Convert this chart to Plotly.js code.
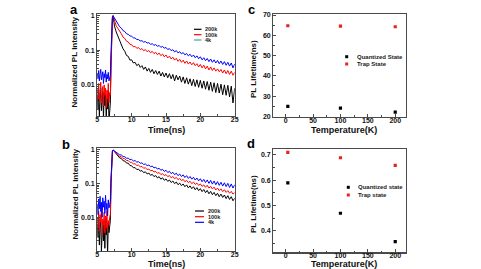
<!DOCTYPE html>
<html>
<head>
<meta charset="utf-8">
<script src="https://cdn.plot.ly/plotly-3.0.1.min.js"></script>
<style>
  html, body { margin: 0; padding: 0; background: #fff; }
  #chart { width: 481px; height: 269px; }
</style>
</head>
<body>
<div id="chart"></div>
<script>
// Time base shared by the PL decay traces (ns)
const timeNs = [5.0,5.1,5.2,5.3,5.4,5.5,5.6,5.7,5.8,5.9,6.0,6.1,6.2,6.3,6.4,6.5,6.6,6.7,6.8,
  6.9,7.0,7.1,7.2,7.3,7.4,
  7.5,7.75,8.0,8.25,8.5,8.75,9.0,9.25,9.5,9.75,10.0,10.25,10.5,10.75,11.0,11.25,11.5,11.75,12.0,12.25,
  12.5,12.75,13.0,13.25,13.5,13.75,14.0,14.25,14.5,14.75,15.0,15.25,15.5,15.75,16.0,16.25,16.5,16.75,17.0,17.25,
  17.5,17.75,18.0,18.25,18.5,18.75,19.0,19.25,19.5,19.75,20.0,20.25,20.5,20.75,21.0,21.25,21.5,21.75,22.0,22.25,
  22.5,22.75,23.0,23.25,23.5,23.75,24.0,24.25,24.5,24.75,25.0];

// Panel a: normalized PL decay
const a200k = [0.005,0.002,0.007,0.0012,0.004,0.008,0.0018,0.005,0.0065,0.001,0.006,0.0025,0.0055,0.0011,0.004,0.002,0.007,0.0009,0.003,
  0.003,0.05,0.32,0.85,1.0,0.72,
  0.5,0.34,0.26,0.18,0.15,0.11,0.094,0.071,0.067,0.052,
  0.053,0.043,0.045,0.036,0.04,0.032,0.036,0.028,0.033,0.025,
  0.03,0.023,0.028,0.021,0.026,0.02,0.025,0.018,0.023,0.017,
  0.022,0.016,0.021,0.015,0.02,0.013,0.019,0.014,0.018,0.012,
  0.017,0.011,0.016,0.0105,0.015,0.0095,0.0145,0.009,0.014,0.0085,
  0.0135,0.008,0.013,0.0075,0.0125,0.007,0.012,0.0065,0.0115,0.006,
  0.011,0.0058,0.0105,0.0052,0.01,0.005,0.0097,0.0045,0.0092,0.003,0.008];
const a100k = [0.008,0.004,0.011,0.0035,0.006,0.012,0.003,0.007,0.009,0.0025,0.01,0.005,0.008,0.0022,0.007,0.004,0.011,0.003,0.006,
  0.005,0.06,0.38,0.88,1.0,0.85,
  0.69,0.51,0.43,0.34,0.30,0.24,0.22,0.184,0.175,0.149,
  0.145,0.126,0.13,0.114,0.12,0.105,0.112,0.097,0.105,0.091,
  0.099,0.085,0.093,0.08,0.088,0.075,0.083,0.07,0.078,0.065,
  0.073,0.06,0.068,0.056,0.063,0.052,0.059,0.048,0.055,0.045,
  0.052,0.042,0.049,0.04,0.046,0.038,0.044,0.036,0.041,0.033,
  0.039,0.031,0.037,0.029,0.035,0.027,0.033,0.026,0.031,0.025,
  0.029,0.024,0.028,0.022,0.027,0.021,0.026,0.02,0.025,0.019,0.023];
const a4k = [0.022,0.015,0.026,0.013,0.02,0.028,0.014,0.019,0.024,0.011,0.021,0.016,0.027,0.012,0.02,0.015,0.023,0.013,0.018,
  0.019,0.09,0.45,0.92,1.0,0.93,
  0.83,0.67,0.58,0.48,0.44,0.37,0.35,0.30,0.29,0.26,
  0.255,0.23,0.227,0.205,0.204,0.186,0.19,0.172,0.179,0.162,
  0.166,0.149,0.155,0.14,0.146,0.131,0.138,0.122,0.13,0.115,
  0.121,0.105,0.112,0.098,0.104,0.09,0.098,0.084,0.091,0.079,
  0.086,0.074,0.081,0.069,0.077,0.065,0.073,0.061,0.069,0.057,
  0.065,0.053,0.061,0.05,0.058,0.047,0.056,0.045,0.053,0.043,
  0.051,0.041,0.049,0.039,0.047,0.037,0.045,0.035,0.043,0.031,0.04];

// Panel b: normalized PL decay
const b200k = [0.006,0.0025,0.009,0.0015,0.005,0.008,0.001,0.004,0.0075,0.002,0.006,0.0012,0.0085,0.003,0.005,0.0008,0.007,0.0035,0.005,
  0.008,0.1,0.46,0.9,1.0,0.94,
  0.89,0.75,0.68,0.58,0.56,0.48,0.47,0.41,0.405,0.345,
  0.34,0.296,0.3,0.262,0.27,0.235,0.245,0.213,0.225,0.194,
  0.207,0.177,0.189,0.162,0.174,0.148,0.161,0.136,0.149,0.126,
  0.138,0.117,0.128,0.108,0.12,0.1,0.112,0.093,0.104,0.087,
  0.098,0.081,0.092,0.075,0.086,0.071,0.081,0.066,0.076,0.062,
  0.071,0.058,0.067,0.054,0.063,0.05,0.059,0.047,0.055,0.044,
  0.052,0.041,0.049,0.039,0.046,0.036,0.044,0.034,0.041,0.031,0.037];
const b100k = [0.01,0.005,0.015,0.004,0.012,0.007,0.018,0.003,0.009,0.006,0.014,0.0035,0.011,0.005,0.016,0.004,0.008,0.006,0.01,
  0.012,0.12,0.5,0.92,1.0,0.95,
  0.91,0.79,0.73,0.65,0.63,0.56,0.55,0.49,0.485,0.43,
  0.43,0.385,0.39,0.347,0.355,0.317,0.325,0.287,0.296,0.263,
  0.272,0.24,0.251,0.221,0.231,0.203,0.214,0.187,0.198,0.174,
  0.186,0.162,0.174,0.15,0.163,0.14,0.153,0.131,0.143,0.123,
  0.134,0.114,0.125,0.107,0.118,0.1,0.111,0.095,0.104,0.089,
  0.098,0.083,0.092,0.078,0.09,0.074,0.083,0.07,0.079,0.065,
  0.074,0.062,0.07,0.058,0.066,0.055,0.062,0.052,0.059,0.049,0.054];
const b4k = [0.025,0.012,0.035,0.018,0.042,0.015,0.028,0.01,0.038,0.02,0.03,0.013,0.045,0.017,0.026,0.011,0.033,0.019,0.024,
  0.03,0.15,0.55,0.93,1.0,0.97,
  0.94,0.84,0.80,0.72,0.71,0.64,0.63,0.57,0.57,0.515,
  0.525,0.47,0.485,0.435,0.45,0.40,0.415,0.37,0.385,0.343,
  0.36,0.318,0.335,0.293,0.31,0.27,0.287,0.249,0.266,0.23,
  0.25,0.214,0.233,0.198,0.218,0.185,0.205,0.173,0.193,0.162,
  0.183,0.152,0.173,0.143,0.163,0.136,0.155,0.128,0.147,0.121,
  0.14,0.114,0.134,0.108,0.129,0.102,0.125,0.097,0.12,0.093,
  0.115,0.089,0.11,0.085,0.106,0.082,0.102,0.077,0.098,0.074,0.093];

// Panels c and d: fitted lifetimes vs temperature
const temperatureK = [4, 100, 200];
const cQuantized = [24.9, 24.1, 22.1];
const cTrap = [64.7, 64.5, 64.2];
const dQuantized = [0.589, 0.469, 0.357];
const dTrap = [0.709, 0.688, 0.658];

const seriesNames = ['200k', '100k', '4k'];
const decayColors = ['#000000', '#ff0000', '#0000ff'];
const legend4kColor = '#3fa89e';
const quantColor = '#000000';
const trapColor = '#e8231e';

const W = 481, H = 269;
const fx = p => p / W;
const fy = p => 1 - p / H;

const FONT = 'Liberation Sans, Arial, Helvetica, sans-serif';
const frame = '#4a4a4a';

function logMinor(lo, hi) {
  const v = [];
  for (let e = lo; e < hi; e++) for (let d = 2; d <= 9; d++) v.push(d * Math.pow(10, e));
  return v;
}

function decayTrace(y, i, xa, ya) {
  return { x: timeNs, y: y, xaxis: xa, yaxis: ya, type: 'scatter', mode: 'lines',
    name: seriesNames[i], showlegend: false,
    line: { color: decayColors[i], width: 1 } };
}
function dotTrace(x, y, c, xa, ya) {
  return { x: x, y: y, xaxis: xa, yaxis: ya, type: 'scatter', mode: 'markers', showlegend: false,
    marker: { symbol: 'square', size: 3.2, color: c } };
}

const traces = [
  decayTrace(a200k, 0, 'x', 'y'), decayTrace(a100k, 1, 'x', 'y'), decayTrace(a4k, 2, 'x', 'y'),
  decayTrace(b200k, 0, 'x2', 'y2'), decayTrace(b100k, 1, 'x2', 'y2'), decayTrace(b4k, 2, 'x2', 'y2'),
  dotTrace(temperatureK, cQuantized, quantColor, 'x3', 'y3'),
  dotTrace(temperatureK, cTrap, trapColor, 'x3', 'y3'),
  dotTrace(temperatureK, dQuantized, quantColor, 'x4', 'y4'),
  dotTrace(temperatureK, dTrap, trapColor, 'x4', 'y4')
];

const tickFont = { family: FONT, size: 7, color: '#111', weight: 700 };
const xTitleFont = { family: FONT, size: 9, color: '#111', weight: 700 };
const yTitleFont = { family: FONT, size: 8, color: '#111', weight: 700 };

function axisBase(extra) {
  return Object.assign({
    showline: true, mirror: true, linecolor: frame, linewidth: 1.2,
    ticks: 'inside', ticklen: 3, tickwidth: 1, tickcolor: frame,
    showgrid: false, zeroline: false, automargin: false,
    tickfont: tickFont
  }, extra);
}

const timeAxis = (dom, anchor) => axisBase({
  domain: dom, anchor: anchor, range: [5, 25], dtick: 5, tick0: 5, ticklabelstandoff: -4,
  minor: { ticks: 'inside', ticklen: 1.8, dtick: 2.5, tickcolor: frame }
});
const intensityAxis = (dom, anchor, rng) => axisBase({
  domain: dom, anchor: anchor, type: 'log', range: rng,
  tickvals: [0.01, 0.1, 1], ticktext: ['0.01', '0.1', '1'],
  minor: { ticks: 'inside', ticklen: 1.8, tickvals: logMinor(-3, 0), tickcolor: frame }
});
const tempAxis = (dom, anchor) => axisBase({
  domain: dom, anchor: anchor, range: [-22.5, 220], dtick: 50, tick0: 0, ticklabelstandoff: -4,
  minor: { ticks: 'inside', ticklen: 1.8, dtick: 25, tickcolor: frame }
});
const lifeAxis = (dom, anchor, rng, dt, mdt) => axisBase({
  domain: dom, anchor: anchor, range: rng, dtick: dt,
  minor: { ticks: 'inside', ticklen: 1.8, dtick: mdt, tickcolor: frame }
});

const leftX = [fx(97.3), fx(234.7)];
const rightX = [fx(273.3), fx(406.2)];

const layout = {
  width: W, height: H,
  margin: { l: 0, r: 0, t: 0, b: 0 },
  paper_bgcolor: '#ffffff', plot_bgcolor: '#ffffff',
  font: { family: FONT, color: '#111' },
  showlegend: false,
  xaxis: timeAxis(leftX, 'y'),
  yaxis: intensityAxis([fy(116), fy(14)], 'x', [-2.9, 0.05]),
  xaxis2: timeAxis(leftX, 'y2'),
  yaxis2: intensityAxis([fy(251), fy(148.3)], 'x2', [-3.0, 0.05]),
  xaxis3: tempAxis(rightX, 'y3'),
  yaxis3: lifeAxis([fy(117), fy(14)], 'x3', [19.7, 70.5], 10, 5),
  xaxis4: tempAxis(rightX, 'y4'),
  yaxis4: lifeAxis([fy(252.3), fy(149)], 'x4', [0.315, 0.7225], 0.1, 0.05),
  shapes: [],
  annotations: []
};

function note(text, x, y, font, extra) {
  layout.annotations.push(Object.assign({ text: text, xref: 'paper', yref: 'paper',
    x: fx(x), y: fy(y), xanchor: 'center', yanchor: 'middle', showarrow: false, font: font }, extra || {}));
}

// panel letters
const letterFont = { family: FONT, size: 13, color: '#000', weight: 700 };
note('a', 73.5, 9.5, letterFont);
note('b', 66, 144.5, letterFont);
note('c', 251, 9.5, letterFont);
note('d', 251, 143.5, letterFont);

// axis titles
note('Time(ns)', 166, 129.5, xTitleFont);
note('Time(ns)', 166, 263.5, xTitleFont);
note('Temperature(K)', 344, 129.5, xTitleFont);
note('Temperature(K)', 344, 263.5, xTitleFont);
note('Normalized PL Intensity', 74.5, 62, yTitleFont, { textangle: -90 });
note('Normalized PL Intensity', 74.5, 194, yTitleFont, { textangle: -90 });
note('PL Lifetime(ns)', 253, 69, yTitleFont, { textangle: -90 });
note('PL Lifetime(ns)', 253, 204, yTitleFont, { textangle: -90 });

const legFont = { family: FONT, size: 5.5, color: '#222', weight: 700 };

// line-swatch legends for the decay panels
function lineLegend(x0, x1, xt, ys, colors) {
  seriesNames.forEach((n, i) => {
    layout.shapes.push({ type: 'line', xref: 'paper', yref: 'paper',
      x0: fx(x0), x1: fx(x1), y0: fy(ys[i]), y1: fy(ys[i]),
      line: { color: colors[i], width: 1.2 } });
    note(n, xt, ys[i], legFont, { xanchor: 'left' });
  });
}
lineLegend(194, 201.5, 203, [29.3, 34.7, 40], [decayColors[0], decayColors[1], legend4kColor]);
lineLegend(195, 204, 205.5, [211, 216.7, 222.3], decayColors);

// marker-swatch legends for the lifetime panels
const dotLegFont = { family: FONT, size: 6, color: '#222', weight: 700 };
function dotLegend(xm, xt, ys, labels) {
  [quantColor, trapColor].forEach((c, i) => {
    layout.shapes.push({ type: 'rect', xref: 'paper', yref: 'paper',
      x0: fx(xm - 1.5), x1: fx(xm + 1.5), y0: fy(ys[i] + 1.5), y1: fy(ys[i] - 1.5),
      line: { width: 0 }, fillcolor: c });
    note(labels[i], xt, ys[i], dotLegFont, { xanchor: 'left' });
  });
}
dotLegend(346.7, 354.5, [56.7, 64], ['Quantized State', 'Trap State']);
dotLegend(348.3, 355.5, [187.3, 195], ['Quantized state', 'Trap state']);

Plotly.newPlot('chart', traces, layout, { staticPlot: true, displayModeBar: false });
</script>
</body>
</html>
